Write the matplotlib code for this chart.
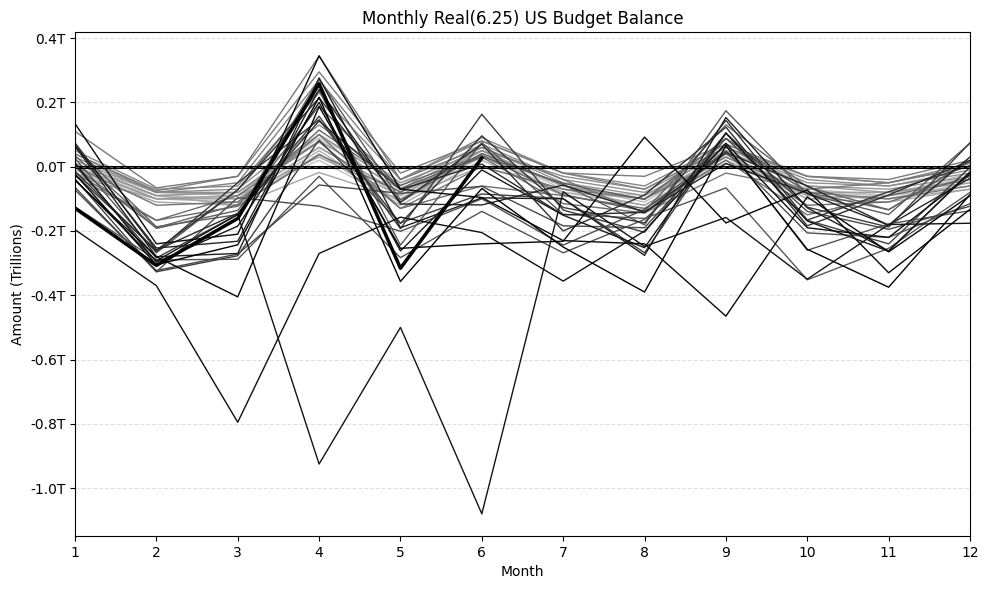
import matplotlib
matplotlib.use("Agg")
import matplotlib.pyplot as plt
import numpy as np
from matplotlib.ticker import FuncFormatter

months = list(range(1, 13))
month_labels = [str(m) for m in months]

# Real (6/2025 dollars) monthly US budget balance, trillions
y1986 = [-0.03, -0.10, -0.09, 0.02, -0.11, 0.03, -0.08, -0.10, 0.02, -0.08, -0.09, -0.03]
y1987 = [-0.02, -0.09, -0.08, 0.09, -0.10, 0.05, -0.07, -0.09, 0.05, -0.07, -0.09, -0.02]
y1988 = [0.00, -0.09, -0.10, 0.06, -0.09, 0.04, -0.06, -0.11, 0.04, -0.08, -0.08, -0.04]
y1989 = [0.01, -0.08, -0.09, 0.10, -0.08, 0.05, -0.06, -0.10, 0.04, -0.09, -0.10, -0.05]
y1990 = [-0.01, -0.10, -0.11, 0.05, -0.11, 0.04, -0.08, -0.12, 0.03, -0.10, -0.09, -0.06]
y1991 = [0.01, -0.09, -0.12, 0.04, -0.12, 0.02, -0.09, -0.13, 0.02, -0.10, -0.11, -0.07]
y1992 = [-0.02, -0.11, -0.12, -0.018, -0.10, 0.00, -0.07, -0.12, 0.01, -0.09, -0.10, -0.07]
y1993 = [-0.03, -0.10, -0.09, 0.03, -0.09, 0.05, -0.06, -0.10, 0.04, -0.08, -0.08, -0.05]
y1994 = [0.00, -0.10, -0.10, 0.06, -0.08, 0.05, -0.06, -0.10, 0.06, -0.06, -0.08, -0.04]
y1995 = [0.01, -0.09, -0.08, 0.08, -0.07, 0.06, -0.05, -0.09, 0.05, -0.06, -0.07, -0.03]
y1996 = [0.02, -0.08, -0.08, 0.10, -0.06, 0.07, -0.04, -0.08, 0.06, -0.05, -0.06, -0.02]
y1997 = [0.03, -0.08, -0.07, 0.13, -0.05, 0.05, -0.03, -0.07, 0.06, -0.04, -0.06, -0.01]
y1998 = [0.05, -0.07, -0.06, 0.23, -0.04, 0.09, -0.02, -0.06, 0.07, -0.03, -0.05, 0.00]
y1999 = [0.04, -0.08, -0.05, 0.27, -0.04, 0.08, -0.02, -0.07, 0.06, -0.03, -0.05, 0.01]
y2000 = [0.04, -0.075, -0.03, 0.295, -0.02, 0.08, -0.02, -0.03, 0.07, -0.03, -0.04, 0.02]
y2001 = [0.11, -0.066, -0.03, 0.344, -0.04, 0.06, -0.04, -0.144, -0.02, -0.07, -0.05, 0.00]
y2002 = [0.00, -0.12, -0.11, 0.10, -0.13, 0.00, -0.07, -0.10, 0.03, -0.08, -0.10, -0.06]
y2003 = [-0.03, -0.167, -0.09, 0.077, -0.13, -0.06, -0.09, -0.13, 0.02, -0.15, -0.09, -0.04]
y2004 = [-0.02, -0.167, -0.123, 0.037, -0.078, 0.03, -0.115, -0.144, 0.04, -0.12, -0.11, -0.03]
y2005 = [0.00, -0.19, -0.118, 0.114, -0.058, 0.035, -0.087, -0.138, 0.13, -0.063, -0.134, 0.016]
y2006 = [0.034, -0.192, -0.136, 0.189, -0.068, 0.032, -0.052, -0.102, 0.088, -0.08, -0.134, 0.019]
y2007 = [0.06, -0.187, -0.149, 0.273, -0.104, 0.041, -0.055, -0.181, 0.174, -0.085, -0.149, 0.073]
y2008 = [0.026, -0.268, -0.072, 0.237, -0.244, 0.075, -0.148, -0.161, -0.066, -0.352, -0.254, -0.08]
y2009 = [-0.125, -0.29, -0.288, -0.03, -0.283, -0.139, -0.268, -0.164, 0.068, -0.26, -0.178, -0.137]
y2010 = [-0.064, -0.327, -0.096, -0.123, -0.201, -0.10, -0.244, -0.133, 0.049, -0.206, -0.22, -0.115]
y2011 = [-0.072, -0.323, -0.272, -0.057, -0.083, -0.061, -0.184, -0.19, 0.088, -0.139, -0.195, -0.123]
y2012 = [-0.038, -0.327, -0.277, 0.083, -0.175, -0.085, -0.099, -0.268, 0.104, -0.167, -0.24, -0.002]
y2013 = [0.004, -0.284, -0.149, 0.157, -0.193, 0.163, -0.135, -0.204, 0.104, -0.126, -0.188, 0.074]
y2014 = [-0.014, -0.264, -0.05, 0.146, -0.177, 0.096, -0.127, -0.175, 0.144, -0.166, -0.078, 0.003]
y2015 = [-0.025, -0.26, -0.072, 0.214, -0.111, 0.07, -0.20, -0.088, 0.123, -0.184, -0.088, 0.019]
y2016 = [0.074, -0.26, -0.145, 0.142, -0.071, 0.008, -0.15, -0.142, 0.044, -0.06, -0.182, -0.036]
y2017 = [0.067, -0.253, -0.232, 0.24, -0.116, -0.119, -0.057, -0.141, 0.01, -0.083, -0.182, 0.03]
y2018 = [0.064, -0.28, -0.27, 0.276, -0.19, -0.097, -0.10, -0.276, 0.153, -0.128, -0.262, -0.018]
y2019 = [0.011, -0.297, -0.185, 0.20, -0.262, -0.01, -0.151, -0.252, 0.105, -0.169, -0.263, -0.016]
y2020 = [-0.041, -0.293, -0.149, -0.925, -0.50, -1.08, -0.078, -0.248, -0.158, -0.35, -0.18, -0.176]
y2021 = [-0.196, -0.37, -0.795, -0.27, -0.157, -0.205, -0.356, -0.20, 0.073, -0.19, -0.22, -0.024]
y2022 = [0.134, -0.24, -0.21, 0.345, -0.07, -0.096, -0.23, -0.24, -0.465, -0.094, -0.265, -0.09]
y2023 = [-0.042, -0.28, -0.405, 0.187, -0.254, -0.24, -0.232, 0.092, -0.175, -0.072, -0.33, -0.133]
y2024 = [-0.023, -0.305, -0.243, 0.216, -0.357, -0.068, -0.25, -0.39, 0.065, -0.257, -0.375, -0.087]
y2025 = [-0.129, -0.307, -0.161, 0.258, -0.316, 0.027]

years = list(range(1986, 2025))
series = [y1986, y1987, y1988, y1989, y1990, y1991, y1992, y1993, y1994, y1995,
          y1996, y1997, y1998, y1999, y2000, y2001, y2002, y2003, y2004, y2005,
          y2006, y2007, y2008, y2009, y2010, y2011, y2012, y2013, y2014, y2015,
          y2016, y2017, y2018, y2019, y2020, y2021, y2022, y2023, y2024]
current_year = 2025
current_values = y2025

fig = plt.figure(figsize=(9.89, 5.90), dpi=100)
ax = fig.add_axes([75/989, 1-536/590, (970-75)/989, (536-32)/590])

shades = np.linspace(0.35, 1.0, len(years))
for yr, vals, s in zip(years, series, shades):
    ax.plot(months[:len(vals)], vals, color=plt.cm.Greys(s), linewidth=1.0)

ax.axhline(0, color='black', linewidth=2.2, zorder=3)
ax.axhline(0, color='#555555', linewidth=0.7, linestyle=(0, (4, 3)), zorder=3)

ax.plot(months[:len(current_values)], current_values, color='black', linewidth=2.5, zorder=4)

ax.set_xlim(1, 12)
ax.set_ylim(-1.149, 0.419)
ax.set_xticks(months)
ax.set_xticklabels(month_labels)
ax.yaxis.set_major_formatter(FuncFormatter(lambda v, p: f"{v:.1f}T"))
ax.yaxis.grid(True, linestyle='--', color='#cccccc', alpha=0.6, linewidth=0.8)
ax.set_axisbelow(True)
ax.set_title("Monthly Real(6.25) US Budget Balance")
ax.set_xlabel("Month")
ax.set_ylabel("Amount (Trillions)")

fig.savefig("out.png", dpi=100)
